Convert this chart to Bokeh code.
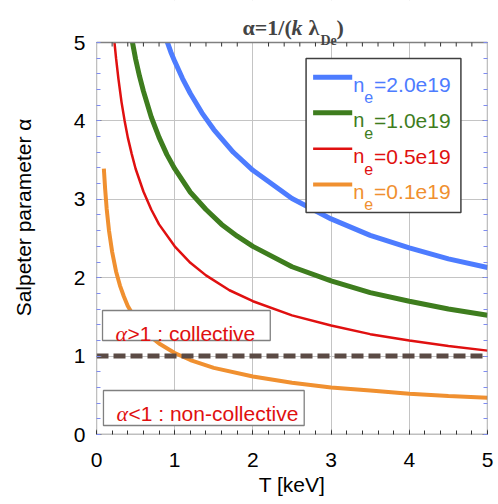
import numpy as np
from bokeh.plotting import figure
from bokeh.models import Range1d, SingleIntervalTicker, LinearAxis, Label
from bokeh.embed import file_html
from bokeh.resources import INLINE

# ---- data ----
T_20 = [0.9, 0.95, 1.0, 1.1, 1.2, 1.35, 1.5, 1.75, 2.0, 2.5, 3.0, 3.5, 4.0, 4.5, 5.0]
a_20 = [5.02, 4.88, 4.76, 4.54, 4.35, 4.10, 3.89, 3.60, 3.37, 3.01, 2.75, 2.54, 2.38, 2.24, 2.13]

T_10 = [0.46, 0.5, 0.55, 0.6, 0.7, 0.8, 0.9, 1.0, 1.2, 1.4, 1.6, 1.8, 2.0, 2.5, 3.0, 3.5, 4.0, 4.5, 5.0]
a_10 = [5.00, 4.79, 4.57, 4.38, 4.05, 3.79, 3.57, 3.39, 3.09, 2.87, 2.68, 2.53, 2.40, 2.14, 1.96, 1.81, 1.70, 1.60, 1.52]

T_05 = [0.23, 0.25, 0.28, 0.32, 0.36, 0.4, 0.45, 0.5, 0.6, 0.7, 0.8, 1.0, 1.2, 1.4, 1.7, 2.0, 2.5, 3.0, 3.5, 4.0, 4.5, 5.0]
a_05 = [5.00, 4.80, 4.54, 4.24, 4.00, 3.79, 3.58, 3.39, 3.10, 2.87, 2.68, 2.40, 2.19, 2.03, 1.84, 1.70, 1.52, 1.39, 1.28, 1.20, 1.13, 1.07]

T_01 = [0.094, 0.11, 0.13, 0.16, 0.2, 0.25, 0.3, 0.35, 0.4, 0.5, 0.6, 0.7, 0.8, 1.0, 1.2, 1.5, 2.0, 2.5, 3.0, 3.5, 4.0, 4.5, 5.0]
a_01 = [3.39, 3.14, 2.88, 2.60, 2.33, 2.08, 1.90, 1.76, 1.64, 1.47, 1.34, 1.24, 1.16, 1.04, 0.95, 0.85, 0.74, 0.66, 0.60, 0.56, 0.52, 0.49, 0.47]

threshold = 1.0
legend_labels = ["=2.0e19", "=1.0e19", "=0.5e19", "=0.1e19"]
x_ticks = [0, 1, 2, 3, 4, 5]
y_ticks = [0, 1, 2, 3, 4, 5]

# ---- styles / layout ----
C_BLUE, C_GREEN, C_RED, C_ORANGE = "#4d7cff", "#3e7d1e", "#e01010", "#f09030"
SANS = "Liberation Sans"
SERIF = "Liberation Serif"
X0, X1, Y0, Y1 = 0, 5, 0, 5
Y_TOP = 5.536          # extra headroom inside the frame for the title

p = figure(width=498, height=504, x_range=Range1d(X0, X1), y_range=Range1d(Y0, Y_TOP),
           output_backend="svg", toolbar_location=None, title=None,
           min_border_left=96, min_border_right=11, min_border_top=0, min_border_bottom=70,
           background_fill_color="white", border_fill_color="white")
p.outline_line_color = None
p.grid.grid_line_color = "#c4c4c4"
p.grid.grid_line_width = 1

for ax, mcol in ((p.xaxis[0], "#333333"), (p.yaxis[0], "#7f8cf0")):
    ax.ticker = SingleIntervalTicker(interval=1, num_minor_ticks=5)
    ax.bounds = (0, 5)
    ax.axis_line_color = None
    ax.major_tick_in = 5
    ax.major_tick_out = 0
    ax.minor_tick_in = 4
    ax.minor_tick_out = 0
    ax.major_tick_line_color = "#808080"
    ax.minor_tick_line_color = mcol
    ax.major_label_text_font = SANS
    ax.major_label_text_font_size = "21px"
    ax.major_label_text_color = "black"
    ax.axis_label_text_font = SANS
    ax.axis_label_text_font_size = "21px"
    ax.axis_label_text_font_style = "normal"
    ax.axis_label_text_color = "black"

p.xaxis.axis_label = "T [keV]"
p.yaxis.axis_label = "Salpeter parameter α"
p.xaxis.major_label_standoff = 18
p.yaxis.major_label_standoff = 11
p.xaxis.axis_label_standoff = 3
p.yaxis.axis_label_standoff = 36

rax = LinearAxis(ticker=SingleIntervalTicker(interval=1, num_minor_ticks=5), bounds=(0, 5))
rax.axis_line_color = None
rax.major_tick_in = 5
rax.major_tick_out = 0
rax.minor_tick_in = 4
rax.minor_tick_out = 0
rax.major_tick_line_color = "#808080"
rax.minor_tick_line_color = "#7f8cf0"
rax.major_label_text_font_size = "0px"
rax.major_label_standoff = 0
p.add_layout(rax, "right")

# curves
p.line(T_01, a_01, line_color=C_ORANGE, line_width=4)
p.line(T_05, a_05, line_color=C_RED, line_width=2.5)
p.line(T_10, a_10, line_color=C_GREEN, line_width=5)
p.line(T_20, a_20, line_color=C_BLUE, line_width=5)

# threshold alpha = 1
p.line([X0, X1], [threshold, threshold], line_color="#5b4b45", line_width=5, line_dash="12 5")

# white title band above the plotting box, then box outline and top ticks
p.quad(left=X0, right=X1, top=Y_TOP, bottom=Y1, fill_color="white", line_color=None)
p.quad(left=X0, right=X1, top=Y1, bottom=Y0, fill_color=None, line_color="#808080", line_width=1.3)
px_per_unit = 78.4
top_minor = np.round(np.arange(X0 + 0.2, X1, 0.2), 2)
top_minor = top_minor[np.abs(top_minor - np.round(top_minor)) > 1e-6]
p.segment(x0=top_minor, y0=[Y1] * len(top_minor), x1=top_minor,
          y1=[Y1 - 4 / px_per_unit] * len(top_minor), line_color="#333333", line_width=1)

# annotation boxes
p.quad(left=0.077, right=2.222, top=1.582, bottom=1.199, fill_color="white",
       line_color="#808080", line_width=1.3)
p.quad(left=0.089, right=2.656, top=0.561, bottom=0.115, fill_color="white",
       line_color="#808080", line_width=1.3)
p.add_layout(Label(x=0.243, y=1.288, text="α", text_font=SERIF, text_font_style="italic",
                   text_font_size="22px", text_color=C_RED, text_baseline="alphabetic"))
p.add_layout(Label(x=0.396, y=1.288, text=">1 : collective", text_font=SANS,
                   text_font_size="21px", text_color=C_RED, text_baseline="alphabetic"))
p.add_layout(Label(x=0.255, y=0.268, text="α", text_font=SERIF, text_font_style="italic",
                   text_font_size="22px", text_color=C_RED, text_baseline="alphabetic"))
p.add_layout(Label(x=0.409, y=0.268, text="<1 : non-collective", text_font=SANS,
                   text_font_size="21px", text_color=C_RED, text_baseline="alphabetic"))

# legend (manual, with subscripts)
p.quad(left=2.68, right=4.66, top=4.796, bottom=2.832, fill_color="white",
       line_color="#404040", line_width=1.5)
rows_y = [4.557, 4.103, 3.644, 3.189]
colors = [C_BLUE, C_GREEN, C_RED, C_ORANGE]
widths = [5, 5, 2.5, 4]
for ry, col, lw, lab in zip(rows_y, colors, widths, legend_labels):
    p.line([2.77, 3.27], [ry, ry], line_color=col, line_width=lw)
    p.add_layout(Label(x=3.282, y=ry - 0.095, text="n", text_font=SANS, text_font_size="20px",
                       text_color=col, text_baseline="alphabetic"))
    p.add_layout(Label(x=3.423, y=ry - 0.255, text="e", text_font=SANS, text_font_size="16px",
                       text_color=col, text_baseline="alphabetic"))
    p.add_layout(Label(x=3.55, y=ry - 0.095, text=lab, text_font=SANS, text_font_size="21px",
                       text_color=col, text_baseline="alphabetic"))

# title  alpha = 1/(k lambda_De)
p.add_layout(Label(x=2.497, y=5.191, text="α=1/(", text_font=SERIF, text_font_size="22px",
                   text_font_style="bold", text_align="right", text_baseline="alphabetic"))
p.add_layout(Label(x=2.494, y=5.191, text="k", text_font=SERIF, text_font_size="22px",
                   text_font_style="bold italic", text_baseline="alphabetic"))
p.add_layout(Label(x=2.711, y=5.191, text="λ", text_font=SERIF, text_font_size="22px",
                   text_font_style="bold", text_baseline="alphabetic"))
p.add_layout(Label(x=2.864, y=5.025, text="De", text_font=SERIF, text_font_size="14px",
                   text_font_style="bold", text_baseline="alphabetic"))
p.add_layout(Label(x=3.069, y=5.191, text=")", text_font=SERIF, text_font_size="22px",
                   text_font_style="bold", text_baseline="alphabetic"))

open("out.html", "w").write(file_html(p, INLINE))
